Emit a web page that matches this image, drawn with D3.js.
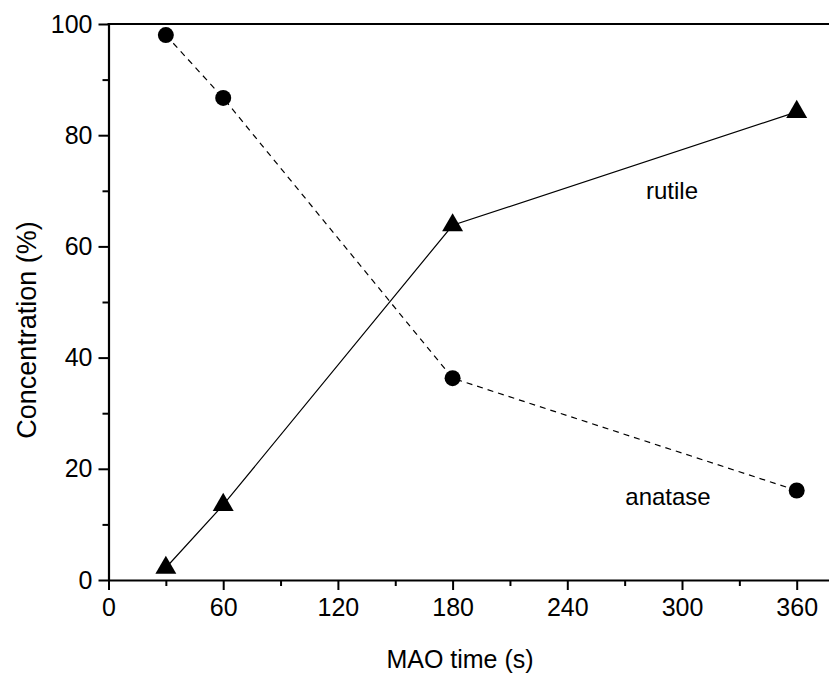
<!DOCTYPE html>
<html><head><meta charset="utf-8">
<script src="https://cdn.jsdelivr.net/npm/d3@7"></script>
<style>body{margin:0;background:#fff}svg{display:block}text{font-family:"Liberation Sans",Arial,sans-serif;fill:#000}</style>
</head><body><svg id="c" width="829" height="673"></svg>
<script>
const times = [30, 60, 180, 360];
const anatase = [98.0, 86.7, 36.3, 16.1];
const rutile = [2.2, 13.5, 63.8, 84.2];
const xMajor = [0, 60, 120, 180, 240, 300, 360];
const xMinor = [30, 90, 150, 210, 270, 330];
const yMajor = [0, 20, 40, 60, 80, 100];
const yMinor = [10, 30, 50, 70, 90];

const svg = d3.select("#c");
const L = 108.5, B = 580, T = 24;
const x = d3.scaleLinear().domain([0, 380]).range([L, L + 380 * (688.2 / 360)]);
const y = d3.scaleLinear().domain([0, 100]).range([B, T]);

// data lines
const line = d3.line().x((d, i) => x(times[i])).y(d => y(d));
svg.append("path").datum(anatase).attr("d", line).attr("fill", "none")
  .attr("stroke", "#000").attr("stroke-width", 1.2).attr("stroke-dasharray", "6,5");
svg.append("path").datum(rutile).attr("d", line).attr("fill", "none")
  .attr("stroke", "#000").attr("stroke-width", 1.2);

// axes
svg.append("g").attr("transform", `translate(0,${B})`)
  .call(d3.axisBottom(x).tickValues(xMajor).tickSize(10).tickPadding(8).tickSizeOuter(0));
svg.append("g").attr("transform", `translate(0,${B})`)
  .call(d3.axisBottom(x).tickValues(xMinor).tickSize(6).tickFormat("").tickSizeOuter(0))
  .select(".domain").remove();
svg.append("g").attr("transform", `translate(${L},0)`)
  .call(d3.axisLeft(y).tickValues(yMajor).tickSize(10).tickPadding(6).tickSizeOuter(0));
svg.append("g").attr("transform", `translate(${L},0)`)
  .call(d3.axisLeft(y).tickValues(yMinor).tickSize(6).tickFormat("").tickSizeOuter(0))
  .select(".domain").remove();
svg.selectAll(".domain").attr("stroke-width", 2.2);
svg.selectAll(".tick line").attr("stroke-width", 2);
svg.selectAll(".tick text").attr("font-size", 25).attr("font-family", '"Liberation Sans",Arial,sans-serif');
// top frame
svg.append("line").attr("x1", L - 1).attr("x2", x(380)).attr("y1", y(100)).attr("y2", y(100))
  .attr("stroke", "#000").attr("stroke-width", 2.2);

// markers
svg.selectAll("circle.a").data(anatase).join("circle")
  .attr("cx", (d, i) => x(times[i])).attr("cy", d => y(d)).attr("r", 8).attr("fill", "#000");
const tri = d3.symbol().type(d3.symbolTriangle).size(190);
svg.selectAll("path.r").data(rutile).join("path")
  .attr("transform", (d, i) => `translate(${x(times[i])},${y(d)})`).attr("d", tri).attr("fill", "#000");

// labels
svg.append("text").attr("x", 672).attr("y", 199).attr("text-anchor", "middle").attr("font-size", 24).text("rutile");
svg.append("text").attr("x", 668).attr("y", 505).attr("text-anchor", "middle").attr("font-size", 24).text("anatase");
svg.append("text").attr("x", 460).attr("y", 668).attr("text-anchor", "middle").attr("font-size", 25).text("MAO time (s)");
svg.append("text").attr("transform", "translate(36,330) rotate(-90)").attr("text-anchor", "middle").attr("font-size", 27).text("Concentration (%)");
</script></body></html>
